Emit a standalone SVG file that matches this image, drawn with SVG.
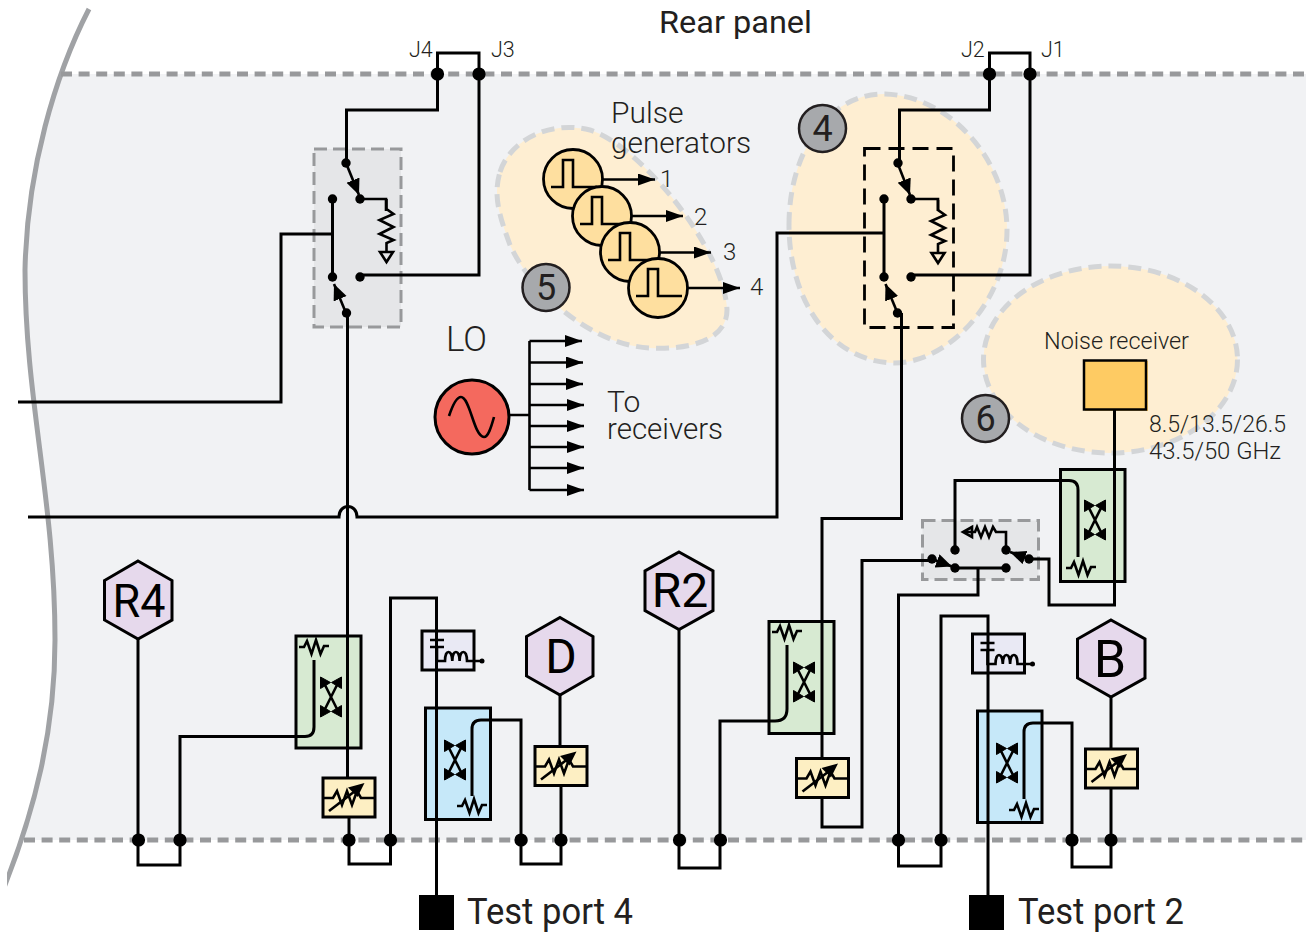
<svg xmlns="http://www.w3.org/2000/svg" width="1306" height="933" viewBox="0 0 1306 933">
<style>
text{font-family:"Roboto","Liberation Sans",sans-serif;fill:#231f20;font-weight:300}
.w{fill:none;stroke:#000;stroke-width:3;stroke-linejoin:miter}
.t{fill:none;stroke:#000;stroke-width:2.600;stroke-linejoin:miter}
.box{stroke:#000;stroke-width:3}
.oval{fill:#feeed2;stroke:#d3d5d7;stroke-width:5;stroke-dasharray:13 7}
.sw{fill:#e5e6e8;stroke:#98999b;stroke-width:3;stroke-dasharray:13 6}
.rail{fill:none;stroke:#98999b;stroke-width:5;stroke-dasharray:11 6.6}
.hex{fill:#e6d9ec;stroke:#000;stroke-width:3}
.badge{fill:#a7a9ac;stroke:#231f20;stroke-width:2.5}
text.hl{font-weight:400;text-anchor:middle;fill:#000}
.n{font-size:24px}
.big{font-size:30px}
text.tp{font-size:36px;font-weight:400}
text.bt{font-size:36px;text-anchor:middle;font-weight:400}
text.rp{font-size:31px;font-weight:400}
</style>
<defs>
<clipPath id="band"><rect x="0" y="74" width="1306" height="766"/></clipPath>
<clipPath id="cut"><rect x="7" y="0" width="200" height="933"/></clipPath>
<marker id="a" markerUnits="userSpaceOnUse" markerWidth="20" markerHeight="16" refX="17" refY="6" orient="auto"><path d="M0,0L17,6L0,12Z"/></marker>
<marker id="b" markerUnits="userSpaceOnUse" markerWidth="22" markerHeight="18" refX="16" refY="7" orient="auto"><path d="M0,0L16,7L0,14Z"/></marker>
<g id="dot"><circle r="4.700"/></g>
<g id="jn"><circle r="6.600"/></g>
<g id="res" class="t"><path d="M-15,0H-10L-7,-6L-2.500,7L2,-7L6.500,7L10,-1H15"/></g>
<g id="cp"><path class="t" d="M-7,-14L7,14M7,-14L-7,14"/><path stroke="#000" stroke-width="1" d="M-10.500,-20L-10.500,-8.500L-0.500,-14.500ZM10.500,-20L10.500,-8.500L0.500,-14.500ZM-10.500,20L-10.500,8.500L-0.500,14.500ZM10.500,20L10.500,8.500L0.500,14.500Z"/></g>
<g id="att"><rect class="box" width="52" height="39" fill="#fdefc3"/><path class="t" d="M0,20H10L14,13L19,27L24,13L29,27L34,13L38,20H52"/><path d="M6,33L36,10" class="t"/><path d="M41.500,5L25,9.500L34.500,19Z"/></g>
<g id="tee"><rect class="box" width="52" height="39" fill="#e9e9f4"/><path class="t" d="M8,9H22M8,16H22M15,16V30H23C23,18 30,18 30.300,30C30.300,18 37.600,18 37.600,30C37.600,18 45,18 45,30H60"/><circle cx="60" cy="30" r="2.500"/></g>
<g id="pulse"><circle r="29.500" fill="#fedf9f" stroke="#000" stroke-width="2.800"/><path class="t" d="M-22,8H-10V-19H0V8H24"/></g>
<g id="gnd"><path class="t" d="M0,0V10L7,15L-7,21L7,28L-7,35L7,41L0,44V53"/><path class="t" fill="#fff" d="M-6.500,53H6.500L0,63Z"/></g>
</defs>

<path id="panel" clip-path="url(#band)" d="M89,9C55,75 27,170 25,270C25,400 55,500 55,640C55,730 35,810 8,880H1306V9Z" fill="#f1f2f4"/>
<g clip-path="url(#cut)"><path id="edge" d="M89,9C55,75 27,170 25,270C25,400 55,500 55,640C55,730 35,810 3,890" fill="none" stroke="#a0a2a5" stroke-width="5"/></g>
<path class="rail" d="M61,74H1306"/>
<path class="rail" d="M24,840H1306"/>

<g id="oval-pulse"><path class="oval" d="M500,172C510,140 550,120 590,130C640,145 725,250 727,310C727,340 690,350 650,348C590,345 530,290 510,245C499,215 493,195 500,172Z"/></g>
<g id="oval-switch"><path class="oval" d="M789,225C789,150 830,93 885,94C950,96 1007,160 1007,230C1007,300 950,362 895,363C830,362 789,300 789,225Z"/></g>
<g id="oval-noise"><ellipse class="oval" cx="1110.500" cy="359.500" rx="127" ry="93.500"/></g>

<g id="switch-left"><rect class="sw" x="314" y="149" width="87" height="178"/></g>
<g id="switch-right"><rect x="864.500" y="148.500" width="89" height="179" fill="none" stroke="#000" stroke-width="2.800" stroke-dasharray="16 8"/></g>
<g id="switch-noise"><rect class="sw" x="922.500" y="520.500" width="116" height="59"/></g>

<g id="coupler-r4"><rect class="box" x="296" y="636" width="65" height="112" fill="#d7ead2"/><use href="#res" x="314" y="647"/><use href="#cp" x="331" y="697"/></g>
<g id="coupler-r2"><rect class="box" x="769" y="621.500" width="65" height="112" fill="#d7ead2"/><use href="#res" x="787" y="632"/><use href="#cp" x="804" y="682"/></g>
<g id="coupler-noise"><rect class="box" x="1060.500" y="469.500" width="64.500" height="112" fill="#d7ead2"/><use href="#res" x="1081" y="568"/><use href="#cp" x="1095" y="520"/></g>
<g id="coupler-d"><rect class="box" x="425.500" y="708" width="65" height="111.500" fill="#c6e8f9"/><use href="#res" x="472" y="806"/><use href="#cp" x="455" y="760"/></g>
<g id="coupler-b"><rect class="box" x="977.500" y="711" width="64.500" height="111.500" fill="#c6e8f9"/><use href="#res" x="1024" y="810"/><use href="#cp" x="1007" y="763"/></g>
<g id="att-r4"><use href="#att" x="323" y="778"/></g>
<g id="att-d"><use href="#att" x="535" y="746.500"/></g>
<g id="att-r2"><use href="#att" x="796.500" y="758.500"/></g>
<g id="att-b"><use href="#att" x="1085.500" y="749"/></g>
<g id="tee-d"><use href="#tee" x="422" y="631"/></g>
<g id="tee-b"><use href="#tee" x="972.500" y="634"/></g>

<g id="pulse-generators">
<use href="#pulse" x="573" y="179"/><use href="#pulse" x="602" y="216"/><use href="#pulse" x="630" y="252"/><use href="#pulse" x="658" y="288"/>
<path class="t" marker-end="url(#a)" d="M603,179.500H655"/>
<path class="t" marker-end="url(#a)" d="M632,216H683"/>
<path class="t" marker-end="url(#a)" d="M660,252.500H711"/>
<path class="t" marker-end="url(#a)" d="M688,288H740"/>
<text class="n" x="660" y="187">1</text><text class="n" x="694" y="225">2</text><text class="n" x="723" y="260">3</text><text class="n" x="750" y="295">4</text>
<text class="big" x="611" y="123">Pulse</text><text class="big" x="611" y="153" textLength="140" lengthAdjust="spacingAndGlyphs">generators</text>
</g>

<g id="lo">
<circle cx="472" cy="417" r="37" fill="#f4695e" stroke="#000" stroke-width="3"/>
<path class="t" d="M449,416C453,404 457,397 461,397C470,397 474,437 484,437C488,437 491,428 494,417"/>
<path class="t" d="M509,415H529.500M529.500,341V490"/>
<path class="t" marker-end="url(#a)" d="M529.500,341H582"/>
<path class="t" marker-end="url(#a)" d="M529.500,362.500H583"/>
<path class="t" marker-end="url(#a)" d="M529.500,384H583"/>
<path class="t" marker-end="url(#a)" d="M529.500,405H584"/>
<path class="t" marker-end="url(#a)" d="M529.500,426H584"/>
<path class="t" marker-end="url(#a)" d="M529.500,447H584"/>
<path class="t" marker-end="url(#a)" d="M529.500,468H584"/>
<path class="t" marker-end="url(#a)" d="M529.500,490H584"/>
<text x="446" y="351" font-size="35">LO</text>
<text class="big" x="607" y="412">To</text><text class="big" x="607" y="439" textLength="116" lengthAdjust="spacingAndGlyphs">receivers</text>
</g>

<g id="noise-receiver"><rect x="1085" y="361" width="63" height="50" fill="#fecb63"/><rect x="1084" y="360.500" width="62" height="49" fill="#fecb63" stroke="#000" stroke-width="2.500"/>
<text x="1044" y="349" font-size="23.500" textLength="145" lengthAdjust="spacingAndGlyphs">Noise receiver</text>
<text x="1149" y="432" font-size="23.500" textLength="137" lengthAdjust="spacingAndGlyphs">8.5/13.5/26.5</text><text x="1149" y="459" font-size="23.500" textLength="132" lengthAdjust="spacingAndGlyphs">43.5/50 GHz</text></g>

<g id="badge-4"><circle class="badge" cx="822.500" cy="128.500" r="23.500"/><text class="bt" x="822.500" y="141">4</text></g>
<g id="badge-5"><circle class="badge" cx="546" cy="287.500" r="23.500"/><text class="bt" x="546" y="300">5</text></g>
<g id="badge-6"><circle class="badge" cx="985.500" cy="418.500" r="23.500"/><text class="bt" x="985.500" y="431">6</text></g>

<g id="r4"><path class="hex" d="M138,561L172,580.500V620L138,639L104.500,620V580.500Z"/><text class="hl" x="139" y="616.500" font-size="46" textLength="53" lengthAdjust="spacingAndGlyphs">R4</text></g>
<g id="d"><path class="hex" d="M560,617.500L593,636.500V676L560,695L526.500,676V636.500Z"/><text class="hl" x="561" y="672.500" font-size="48">D</text></g>
<g id="r2"><path class="hex" d="M679,552L713,571V610.500L679,629.500L645,610.500V571Z"/><text class="hl" x="680" y="607" font-size="48">R2</text></g>
<g id="b"><path class="hex" d="M1111,620L1145,639V678L1111,697L1077.500,678V639Z"/><text class="hl" x="1110" y="677" font-size="52">B</text></g>

<g id="port-4"><rect x="419" y="895" width="35" height="35"/><text class="tp" x="467" y="924" textLength="166" lengthAdjust="spacingAndGlyphs">Test port 4</text></g>
<g id="port-2"><rect x="969" y="895" width="35" height="35"/><text class="tp" x="1018" y="924" textLength="166" lengthAdjust="spacingAndGlyphs">Test port 2</text></g>

<text class="rp" x="659" y="33" textLength="153" lengthAdjust="spacingAndGlyphs">Rear panel</text>
<text x="409" y="57" font-size="21.500">J4</text><text x="491" y="57" font-size="21.500">J3</text>
<text x="961" y="57" font-size="21.500">J2</text><text x="1041" y="57" font-size="21.500">J1</text>

<g id="connectors">
<path class="w" d="M437.500,74V53H479V74"/>
<path class="w" d="M437.500,74V110H346.500V163"/>
<path class="w" d="M479,74V275H360"/>
<path class="t" marker-end="url(#b)" d="M346,163L359,195"/>
<path class="t" d="M360,199H386V211"/><use href="#gnd" x="386.500" y="199"/>
<path class="w" d="M332.500,199V277M332.500,234H281V402H18"/>
<path class="t" marker-end="url(#b)" d="M346,313L334,284"/>
<path class="w" d="M347.500,313V777M349,817V840"/>
<path class="w" d="M28,517H339C339,503 357,503 357,517H777V233H885"/>
<path class="w" d="M349,840V864H390.500V840"/>
<path class="w" d="M390.500,840V598H436.500V895"/>
<path class="w" d="M138,639V840V865H180V840"/>
<path class="w" d="M180,840V736.500H305Q314,736.500 314,727V660"/>
<path class="w" d="M472,796V729Q472,720 481,720H521V840V864H561V840V785M560,746V695"/>
<path class="w" d="M989.500,74V53H1030V74"/>
<path class="w" d="M989.500,74V110H899.500V163"/>
<path class="w" d="M1030,74V275H911"/>
<path class="t" marker-end="url(#b)" d="M897.500,163L910,195"/>
<path class="t" d="M911,199H938V211"/><use href="#gnd" x="938" y="200"/>
<path class="w" d="M884,199V277"/>
<path class="t" marker-end="url(#b)" d="M897.500,313L885.500,284"/>
<path class="w" d="M901.500,313V518.500H822V758M822,797V827H862V560.500H932"/>
<path class="w" d="M679,629V840V868H720V840V721H775Q787,721 787,709V645"/>
<path class="w" d="M955,550V480.500H1069Q1078,480.500 1078,490V557"/>
<path class="t" d="M1006,550V532H996L993,527L989,537L985,527L981,537L977,527L975,532H964"/><path class="t" fill="#f1f2f4" d="M972,527L963,532L972,537Z"/>
<path class="t" marker-end="url(#b)" d="M932,559L952,566.500"/>
<path class="t" marker-end="url(#b)" d="M1029,559L1010,552"/>
<path class="w" d="M955,568H1006M978,568V595H898.500V840V866H941V840V616H988V895"/>
<path class="w" d="M1029,559H1049V605H1114.500V410"/>
<path class="w" d="M1024,799V732Q1024,723 1033,723H1072V840V867H1111V840V788M1111,749V697"/>
<use href="#jn" x="437.500" y="74"/><use href="#jn" x="479" y="74"/><use href="#jn" x="989.500" y="74"/><use href="#jn" x="1030" y="74"/>
<use href="#jn" x="138.500" y="840"/><use href="#jn" x="180" y="840"/><use href="#jn" x="349" y="840"/><use href="#jn" x="390.500" y="840"/><use href="#jn" x="521" y="840"/><use href="#jn" x="561" y="840"/>
<use href="#jn" x="679.500" y="840"/><use href="#jn" x="720.500" y="840"/><use href="#jn" x="898.500" y="840"/><use href="#jn" x="941" y="840"/><use href="#jn" x="1072" y="840"/><use href="#jn" x="1111" y="840"/>
<use href="#dot" x="346" y="163"/><use href="#dot" x="360" y="199"/><use href="#dot" x="332.500" y="199"/><use href="#dot" x="332.500" y="277"/><use href="#dot" x="360" y="277"/><use href="#dot" x="346.500" y="313"/>
<use href="#dot" x="898" y="163"/><use href="#dot" x="911" y="199"/><use href="#dot" x="884" y="199"/><use href="#dot" x="884" y="277"/><use href="#dot" x="911" y="277"/><use href="#dot" x="897.500" y="313"/>
<use href="#dot" x="955" y="550"/><use href="#dot" x="1006" y="550"/><use href="#dot" x="955" y="568"/><use href="#dot" x="1006" y="568"/><use href="#dot" x="932" y="559"/><use href="#dot" x="1029" y="559"/>
</g>
</svg>
